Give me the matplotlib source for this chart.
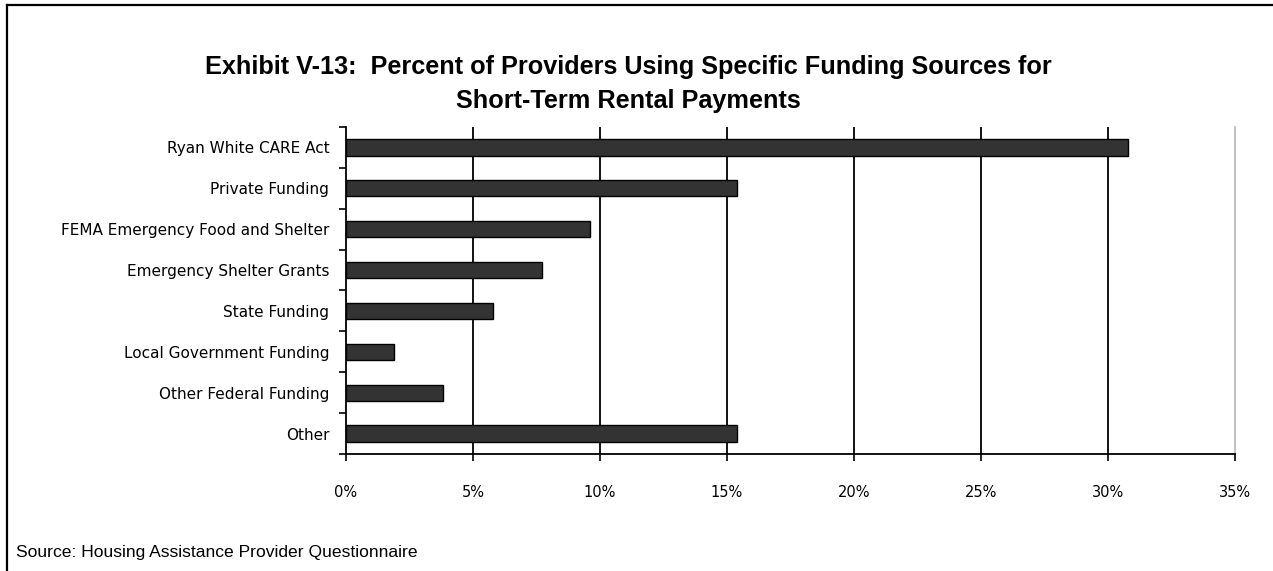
import numpy as np
import matplotlib.pyplot as plt
from matplotlib.lines import Line2D

sources = ["Ryan White CARE Act", "Private Funding", "FEMA Emergency Food and Shelter",
           "Emergency Shelter Grants", "State Funding", "Local Government Funding",
           "Other Federal Funding", "Other"]
percent = [30.8, 15.4, 9.6, 7.7, 5.8, 1.9, 3.8, 15.4]
xticks = [0, 5, 10, 15, 20, 25, 30, 35]

fig = plt.figure(figsize=(12.73, 5.71), dpi=100)
ax = fig.add_axes([0.2718, 0.2049, 0.6984, 0.5727])

y = np.arange(len(sources))
ax.barh(y, percent, height=0.4, color="#333333", edgecolor="black", linewidth=1, zorder=3)
ax.set_ylim(len(sources) - 0.5, -0.5)
ax.set_xlim(0, 35)

ax.set_yticks(y)
ax.set_yticklabels(sources, family="DejaVu Sans", fontsize=11)
ax.set_yticks(np.arange(-0.5, len(sources)), minor=True)
ax.tick_params(axis="y", which="major", length=0, pad=12)
ax.tick_params(axis="y", which="minor", length=5, width=1.2, direction="out")

ax.set_xticks(xticks)
ax.set_xticklabels([f"{v}%" for v in xticks], family="DejaVu Sans", fontsize=10.5)
ax.tick_params(axis="x", length=5, width=1.2, direction="out", pad=17)

ax.grid(axis="x", color="black", linewidth=1.3, zorder=0)
lines = ax.xaxis.get_gridlines()
lines[0].set_visible(False)
lines[-1].set_color("#b8b8b8")
lines[-1].set_linewidth(1.2)
lines[-1].set_clip_on(False)
for side in ("top", "right"):
    ax.spines[side].set_visible(False)
for side in ("left", "bottom"):
    ax.spines[side].set_linewidth(1.3)

fig.text(0.4933, 0.8827, "Exhibit V-13:  Percent of Providers Using Specific Funding Sources for",
         ha="center", va="center", family="Liberation Sans", fontweight="bold", fontsize=18.2)
fig.text(0.4933, 0.8232, "Short-Term Rental Payments",
         ha="center", va="center", family="Liberation Sans", fontweight="bold", fontsize=18.2)

fig.text(0.0126, 0.033, "Source: Housing Assistance Provider Questionnaire",
         ha="left", va="center", family="Liberation Sans", fontsize=12.6)

# border along the top and left edges
fig.add_artist(Line2D([7 / 1273, 1], [1 - 5 / 571, 1 - 5 / 571], color="black", linewidth=1.6,
                      transform=fig.transFigure))
fig.add_artist(Line2D([7 / 1273, 7 / 1273], [0, 1 - 5 / 571], color="black", linewidth=1.6,
                      transform=fig.transFigure))

fig.savefig("out.png", dpi=100)
